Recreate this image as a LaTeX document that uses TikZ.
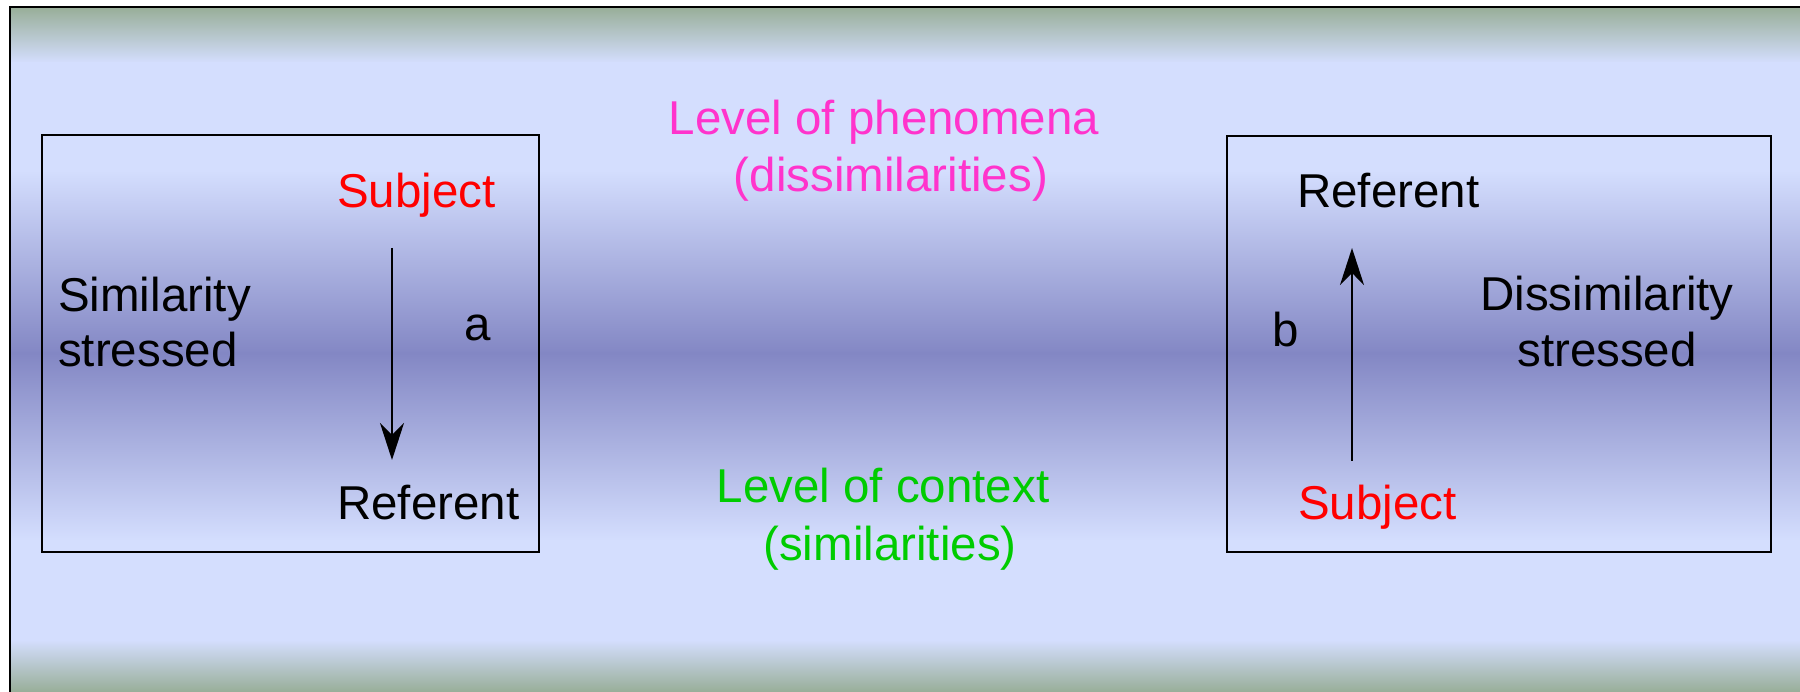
\documentclass[tikz,border=0pt]{standalone}
\usepackage{fontspec}
\setmainfont{Liberation Sans}
\usetikzlibrary{arrows.meta,calc}
\definecolor{bggreen}{HTML}{98AE98}
\definecolor{bglight}{HTML}{D4DEFE}
\definecolor{bgdark}{HTML}{8387C4}
\definecolor{phenopink}{HTML}{FF33CC}
\definecolor{ctxgreen}{HTML}{00CC00}
\definecolor{subjred}{HTML}{FF0000}
\begin{document}
\begin{tikzpicture}[x=1pt,y=-1pt,
  txt/.style={inner sep=0pt, font=\fontsize{47.5}{56}\selectfont},
  boxline/.style={draw=black, line width=2pt},
  arr/.style={line width=2pt, -{Stealth[length=37pt,width=24pt,inset=12pt]}}]
\useasboundingbox (0,0) rectangle (1800,692);
\fill[white] (0,0) rectangle (1800,692);
\begin{scope}
\clip (0,0) rectangle (1800,692);
\shade[top color=bggreen,bottom color=bglight] (10,7) rectangle (1800,63);
\fill[bglight] (10,62) rectangle (1800,171);
\shade[top color=bglight,bottom color=bgdark] (10,170) rectangle (1800,354);
\shade[top color=bgdark,bottom color=bglight] (10,353) rectangle (1800,541);
\fill[bglight] (10,540) rectangle (1800,641);
\shade[top color=bglight,bottom color=bggreen] (10,640) rectangle (1800,692);
\draw[line width=2.5pt, draw=black] (10,7) rectangle (1815,710);
\end{scope}

% boxes
\draw[boxline] (42,135) rectangle (539,552);
\draw[boxline] (1227,136) rectangle (1771,552);

% middle texts
\node[txt, text=phenopink, anchor=base] (ph1) at (884,135) {Level of phenomena};
\node[txt, text=phenopink, anchor=base] (ph2) at (891,192) {(dissimilarities)};
\node[txt, text=ctxgreen, anchor=base] (cx1) at (883,503) {Level of context};
\node[txt, text=ctxgreen, anchor=base] (cx2) at (890,560) {(similarities)};

% left box
\node[txt, text=subjred, anchor=base west] (subjL) at (337,208) {Subject};
\node[txt, anchor=base west] (simL1) at (58,312) {Similarity};
\node[txt, anchor=base west] (simL2) at (58,367) {stressed};
\node[txt, anchor=base west] (aL) at (464,341) {a};
\node[txt, anchor=base west] (refL) at (337,519) {Referent};
\coordinate (axL) at (392,0);
\draw[arr] ($(subjL.base -| axL)+(0,40)$) -- ($(refL.base -| axL)+(0,-59)$);

% right box
\node[txt, anchor=base west] (refR) at (1297,208) {Referent};
\node[txt, anchor=base west] (bR) at (1272,347) {b};
\node[txt, anchor=base] (dis1) at (1607,311) {Dissimilarity};
\node[txt, anchor=base] (dis2) at (1607,367) {stressed};
\node[txt, text=subjred, anchor=base west] (subjR) at (1298,519) {Subject};
\coordinate (axR) at (1352,0);
\draw[arr] ($(subjR.base -| axR)+(0,-58)$) -- ($(refR.base -| axR)+(0,40)$);
\end{tikzpicture}
\end{document}
